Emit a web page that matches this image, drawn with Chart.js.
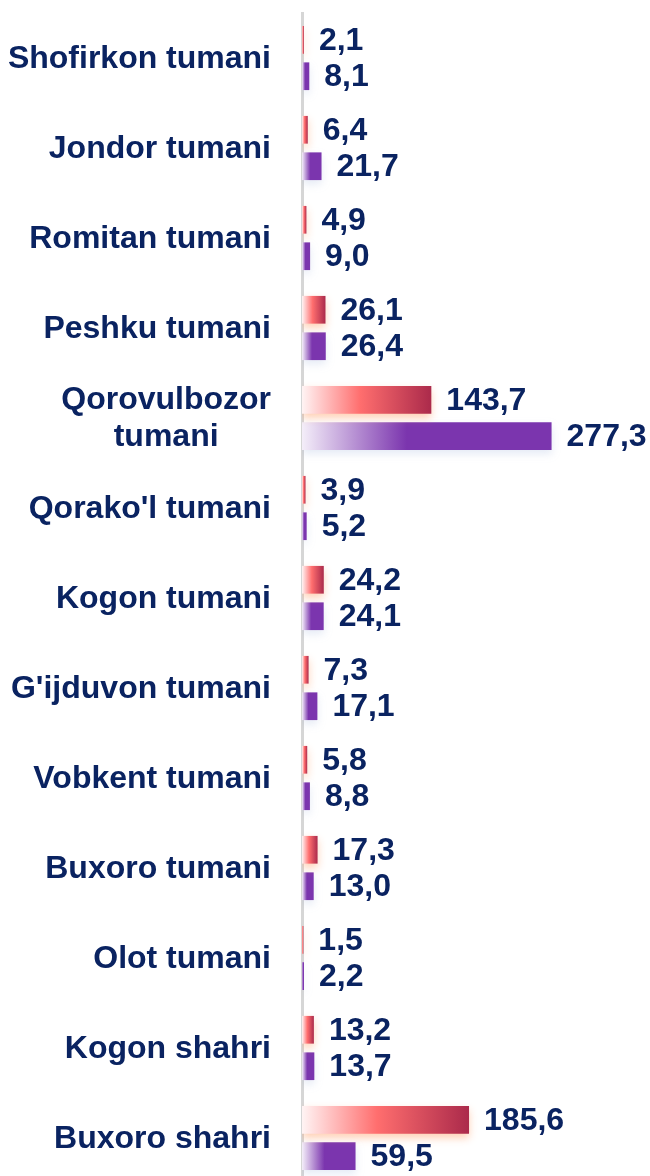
<!DOCTYPE html>
<html>
<head>
<meta charset="utf-8">
<script src="https://cdn.jsdelivr.net/npm/chart.js@4"></script>
<style>
  html, body { margin: 0; padding: 0; background: #fff; overflow: hidden; }
  canvas { display: block; }
</style>
</head>
<body>
<canvas id="grafica" width="650" height="1190"></canvas>
<script>
// --- Datos ---
const tumanlar = [
    'Shofirkon tumani', 'Jondor tumani', 'Romitan tumani', 'Peshku tumani',
    ['Qorovulbozor', 'tumani'], "Qorako'l tumani", 'Kogon tumani', "G'ijduvon tumani",
    'Vobkent tumani', 'Buxoro tumani', 'Olot tumani', 'Kogon shahri', 'Buxoro shahri'
];
const qiymatQizil = [2.1, 6.4, 4.9, 26.1, 143.7, 3.9, 24.2, 7.3, 5.8, 17.3, 1.5, 13.2, 185.6];
const qiymatBinafsha = [8.1, 21.7, 9.0, 26.4, 277.3, 5.2, 24.1, 17.1, 8.8, 13.0, 2.2, 13.7, 59.5];

const matnRangi = '#0a2361';
const shrift = 'bold 32px "Liberation Sans", Arial, sans-serif';

// gradient har bir ustun uchun: oq -> rang
function ustunGradient(context, stops, fallback) {
    const chart = context.chart;
    if (!chart.chartArea || !chart.scales.x) return fallback;
    const xs = chart.scales.x;
    const x0 = xs.getPixelForValue(0);
    let x1 = xs.getPixelForValue(context.raw || 0);
    if (x1 - x0 < 1) x1 = x0 + 1;
    const g = chart.ctx.createLinearGradient(x0, 0, x1, 0);
    stops.forEach(s => g.addColorStop(s[0], s[1]));
    return g;
}

const qizilStops = [[0, '#fff4f4'], [0.45, '#ff6e6e'], [1, '#ab2a4b']];
const binafshaStops = [[0, '#f4eef9'], [0.42, '#7b35ae'], [1, '#7b35ae']];

// soya
const soyaPlugin = {
    id: 'soya',
    beforeDatasetDraw(chart, args) {
        const ctx = chart.ctx;
        ctx.save();
        if (args.index === 0) {
            ctx.shadowColor = 'rgba(255,150,90,0.45)';
        } else {
            ctx.shadowColor = 'rgba(110,140,200,0.18)';
        }
        ctx.shadowBlur = 8;
        ctx.shadowOffsetY = 4;
    },
    afterDatasetDraw(chart) {
        chart.ctx.restore();
    }
};

// qiymat yozuvlari
const qiymatPlugin = {
    id: 'qiymatlar',
    afterDatasetsDraw(chart) {
        const ctx = chart.ctx;
        ctx.save();
        ctx.font = shrift;
        ctx.fillStyle = matnRangi;
        ctx.textAlign = 'left';
        ctx.textBaseline = 'middle';
        chart.data.datasets.forEach((ds, i) => {
            const meta = chart.getDatasetMeta(i);
            meta.data.forEach((bar, j) => {
                const txt = ds.data[j].toFixed(1).replace('.', ',');
                ctx.fillText(txt, bar.x + 15, bar.y + 1);
            });
        });
        ctx.restore();
    }
};

// kategoriya nomlari (ko'p qatorli nomlar markazlangan)
const nomPlugin = {
    id: 'nomlar',
    afterDraw(chart) {
        const ctx = chart.ctx;
        const ys = chart.scales.y;
        const oNg = 271;
        const qatorBalandligi = 37;
        ctx.save();
        ctx.font = shrift;
        ctx.fillStyle = matnRangi;
        ctx.textAlign = 'center';
        ctx.textBaseline = 'middle';
        tumanlar.forEach((nom, i) => {
            const qatorlar = Array.isArray(nom) ? nom : [nom];
            const eng = Math.max(...qatorlar.map(q => ctx.measureText(q).width));
            const cx = oNg - eng / 2;
            const yMarkaz = ys.getPixelForValue(i);
            const boshY = yMarkaz - (qatorlar.length - 1) * qatorBalandligi / 2;
            qatorlar.forEach((q, k) => {
                ctx.fillText(q, cx, boshY + k * qatorBalandligi + 1);
            });
        });
        ctx.restore();
    }
};

const ctx = document.getElementById('grafica').getContext('2d');
new Chart(ctx, {
    type: 'bar',
    data: {
        labels: tumanlar,
        datasets: [
            {
                label: '1',
                data: qiymatQizil,
                backgroundColor: c => ustunGradient(c, qizilStops, '#ff6e6e'),
                borderWidth: 0,
                categoryPercentage: 0.81,
                barPercentage: 0.76
            },
            {
                label: '2',
                data: qiymatBinafsha,
                backgroundColor: c => ustunGradient(c, binafshaStops, '#7b35ae'),
                borderWidth: 0,
                categoryPercentage: 0.81,
                barPercentage: 0.76
            }
        ]
    },
    options: {
        indexAxis: 'y',
        responsive: false,
        animation: false,
        devicePixelRatio: 1,
        layout: { padding: { top: 13, bottom: 7, right: 78, left: 0 } },
        plugins: {
            legend: { display: false },
            tooltip: { enabled: false }
        },
        scales: {
            x: {
                display: false,
                min: 0,
                max: 300
            },
            y: {
                grid: { display: false, drawTicks: false },
                border: { display: true, color: '#d6d6d6', width: 3 },
                ticks: { display: false },
                afterFit: scale => { scale.width = 302; }
            }
        }
    },
    plugins: [soyaPlugin, qiymatPlugin, nomPlugin]
});
</script>
</body>
</html>
